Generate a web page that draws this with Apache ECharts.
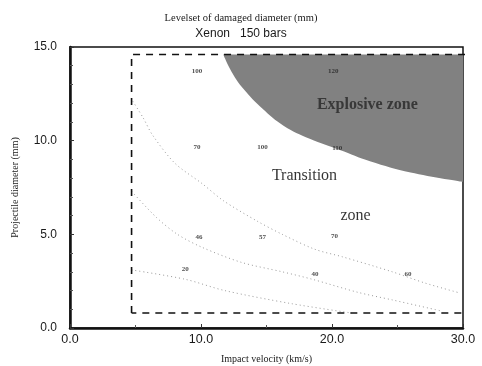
<!DOCTYPE html>
<html>
<head>
<meta charset="utf-8">
<script src="https://cdn.jsdelivr.net/npm/echarts@6/dist/echarts.min.js"></script>
<style>
  html, body { margin: 0; padding: 0; background: #fff; }
  #chart { width: 482px; height: 366px; }
</style>
</head>
<body>
<div id="chart"></div>
<script>
// lower edge of the explosive zone (velocity km/s, diameter mm)
const explosiveEdge = [[11.7, 14.6], [12.4, 13.6], [13.2, 12.8], [14.7, 11.7], [16.3, 10.8], [18.3, 10.1], [20.6, 9.5], [22.9, 8.9], [26.0, 8.3], [30.0, 7.8]];
const explosiveTop = 14.6;

// faint dotted level curves
const levelUpper = [[4.8, 12.1], [5.6, 11.2], [6.3, 10.3], [8.0, 8.8], [10.1, 7.7], [11.7, 6.8], [14.3, 5.7], [16.2, 5.0], [18.7, 4.2], [20.8, 3.8], [24.6, 3.0], [27.1, 2.4], [29.6, 1.9]];
const levelMiddle = [[4.7, 7.3], [6.6, 5.9], [8.2, 5.0], [10.1, 4.3], [13.1, 3.5], [16.2, 3.0], [18.5, 2.6], [22.0, 1.9], [24.6, 1.5], [28.4, 0.9]];
const levelLower = [[4.7, 3.1], [8.8, 2.6], [11.8, 2.0], [16.9, 1.3], [21.5, 0.8]];

// dashed study domain
const studyBox = [[4.7, 0.8], [4.7, 14.6], [30.3, 14.6], [30.3, 0.8], [4.7, 0.8]];

// small level values written on the map
const levelLabels = [
  [9.7, 13.7, '100'], [20.1, 13.7, '120'],
  [9.7, 9.66, '70'], [14.7, 9.66, '100'], [20.4, 9.61, '110'],
  [9.85, 4.86, '46'], [14.7, 4.86, '57'], [20.2, 4.91, '70'],
  [8.8, 3.15, '20'], [18.7, 2.88, '40'], [25.8, 2.88, '60']
];
const zoneLabels = [
  [22.7, 11.9, 'Explosive zone', 'bold'],
  [17.9, 8.1, 'Transition', 'normal'],
  [21.8, 6.0, 'zone', 'normal']
];

const xTicks = [0, 10, 20, 30];
const yTicks = [0, 5, 10, 15];

const chart = echarts.init(document.getElementById('chart'));

const dotted = (data) => ({
  type: 'line',
  data: data,
  smooth: 0.3,
  showSymbol: false,
  silent: true,
  lineStyle: { color: '#999', width: 1, type: [1, 3] },
  z: 3
});

chart.setOption({
  animation: false,
  backgroundColor: '#fff',
  title: {
    text: 'Levelset of damaged diameter (mm)',
    subtext: 'Xenon   150 bars',
    left: 'center',
    top: 8,
    itemGap: 4,
    textStyle: { fontFamily: 'Liberation Serif', fontSize: 10.5, fontWeight: 'normal', color: '#1a1a1a' },
    subtextStyle: { fontFamily: 'Liberation Sans', fontSize: 12, color: '#1a1a1a' }
  },
  grid: {
    left: 70, right: 19, top: 47, bottom: 38,
    outerBoundsMode: 'none',
    show: true, borderColor: '#111', borderWidth: 1.5, backgroundColor: 'transparent'
  },
  xAxis: {
    type: 'value',
    min: 0, max: 30, interval: 10,
    name: 'Impact velocity (km/s)',
    nameLocation: 'middle',
    nameGap: 26,
    nameTextStyle: { fontFamily: 'Liberation Serif', fontSize: 10, color: '#1a1a1a' },
    axisLine: { lineStyle: { color: '#111', width: 2.5 } },
    axisTick: { inside: true, length: 4, lineStyle: { color: '#333' } },
    minorTick: { show: true, splitNumber: 2, length: 3, lineStyle: { color: '#555' } },
    splitLine: { show: false },
    axisLabel: {
      margin: 5,
      fontFamily: 'Liberation Sans', fontSize: 12.5, color: '#1a1a1a',
      formatter: (v) => xTicks.includes(v) ? v.toFixed(1) : ''
    }
  },
  yAxis: {
    type: 'value',
    min: 0, max: 15, interval: 5,
    name: 'Projectile diameter (mm)',
    nameLocation: 'middle',
    nameGap: 50,
    nameTextStyle: { fontFamily: 'Liberation Serif', fontSize: 10, color: '#1a1a1a' },
    axisLine: { show: true, lineStyle: { color: '#111', width: 2.5 } },
    axisTick: { show: true, inside: true, length: 4, lineStyle: { color: '#333' } },
    minorTick: { show: true, splitNumber: 5, length: 3, lineStyle: { color: '#555' } },
    splitLine: { show: false },
    axisLabel: {
      margin: 13,
      fontFamily: 'Liberation Sans', fontSize: 12, color: '#1a1a1a',
      formatter: (v) => yTicks.includes(v) ? v.toFixed(1) : ''
    }
  },
  series: [
    {
      name: 'explosive',
      type: 'line',
      data: explosiveEdge,
      smooth: 0.4,
      showSymbol: false,
      silent: true,
      lineStyle: { width: 0 },
      areaStyle: { color: '#818181', opacity: 1, origin: explosiveTop },
      z: 1
    },
    dotted(levelUpper),
    dotted(levelMiddle),
    dotted(levelLower),
    {
      name: 'domain',
      type: 'line',
      data: studyBox,
      showSymbol: false,
      silent: true,
      clip: false,
      lineStyle: { color: '#111', width: 1.6, type: [7, 6] },
      z: 4
    },
    {
      name: 'levels',
      type: 'scatter',
      symbolSize: 0,
      silent: true,
      data: levelLabels.map((d) => ({ value: [d[0], d[1]], name: d[2] })),
      label: {
        show: true, position: 'inside',
        formatter: (p) => p.name,
        fontFamily: 'Liberation Serif', fontSize: 7, fontWeight: 'bold', color: '#222'
      },
      z: 5
    },
    {
      name: 'zones',
      type: 'scatter',
      symbolSize: 0,
      silent: true,
      data: zoneLabels.map((d) => ({
        value: [d[0], d[1]], name: d[2],
        label: { fontWeight: d[3], color: d[3] === 'bold' ? '#262626' : '#000' }
      })),
      label: {
        show: true, position: 'inside',
        formatter: (p) => p.name,
        fontFamily: 'Liberation Serif', fontSize: 16
      },
      z: 6
    }
  ]
});
</script>
</body>
</html>
